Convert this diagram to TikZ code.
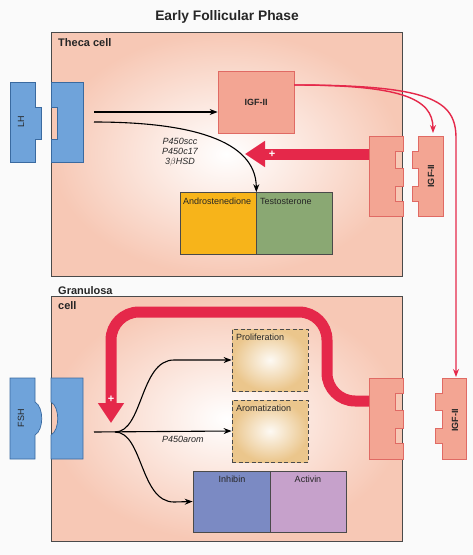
\documentclass[tikz,border=0pt]{standalone}
\usepackage{fontspec}
\setmainfont{Liberation Sans}
\usetikzlibrary{arrows.meta}
\definecolor{cellpink}{HTML}{F7C8B5}
\definecolor{cellline}{HTML}{4A4A4A}
\definecolor{recblue}{HTML}{6FA3DA}
\definecolor{recblueline}{HTML}{3A6AA0}
\definecolor{salmon}{HTML}{F3A593}
\definecolor{salmonline}{HTML}{E06A64}
\definecolor{igfred}{HTML}{E5284A}
\definecolor{androc}{HTML}{F7B41A}
\definecolor{testoc}{HTML}{8AA873}
\definecolor{inhibc}{HTML}{7B8AC3}
\definecolor{activc}{HTML}{C6A1CB}
\definecolor{tanc}{HTML}{EBC68C}
\definecolor{boxline}{HTML}{4A4A4A}
\tikzset{
  cellbox/.style={draw=cellline, line width=0.9pt, inner color=white, outer color=cellpink},
  bluerec/.style={fill=recblue, draw=recblueline, line width=0.7pt},
  salrec/.style={fill=salmon, draw=salmonline, line width=0.7pt},
  prodbox/.style={draw=boxline, line width=0.7pt, inner sep=0pt, minimum width=76pt, minimum height=62pt},
  dashbox/.style={draw=boxline, line width=0.8pt, dash pattern=on 4pt off 2.5pt, inner sep=0pt, minimum width=76pt, minimum height=62pt, inner color=white!90!tanc, outer color=tanc},
  lbl/.style={font=\fontsize{9}{10}\selectfont, text=black!85, inner sep=0pt},
  blbl/.style={font=\fontsize{9}{10}\selectfont\bfseries, text=black!85, inner sep=0pt},
  enz/.style={font=\fontsize{9}{10}\selectfont\itshape, text=black!85, inner sep=0pt, align=center},
  hdr/.style={font=\fontsize{11}{12}\selectfont\bfseries, text=black!85, anchor=west, inner sep=0pt},
  blk/.style={draw=black, line width=1.1pt, -{Stealth[length=8pt,width=6pt]}},
  thinred/.style={draw=igfred, line width=1.4pt},
  fat/.style={draw=igfred, line width=11pt, -{Triangle[length=20pt,width=25pt]}},
  plus/.style={text=white, font=\fontsize{11}{11}\selectfont\bfseries, inner sep=0pt}
}
\begin{document}
\begin{tikzpicture}[x=1pt,y=-1pt]
\useasboundingbox (0,0) rectangle (473,555);
\fill[white!98!black] (0,0) rectangle (473,555);

% title
\node[font=\fontsize{13.8}{15}\selectfont\bfseries, text=black!85] (title) at (227,17) {Early Follicular Phase};

% cell boxes
\shadedraw[cellbox] (51,32) rectangle (402,276);
\shadedraw[cellbox] (51,296) rectangle (402,541);
\node[hdr] (theca) at (58,42.5) {Theca cell};
\node[hdr] (granA) at (58,291) {Granulosa};
\node[hdr] (granB) at (58,306) {cell};

% LH ligand and receptor
\draw[bluerec] (10,82) -- (35,82) -- (35,107) -- (41,107) -- (41,139) -- (35,139) -- (35,162) -- (10,162) -- cycle;
\draw[bluerec] (51,82) -- (83,82) -- (83,162) -- (51,162) -- (51,139) -- (57,139) -- (57,107) -- (51,107) -- cycle;
\node[lbl, rotate=90] (lh) at (21,122) {LH};

% FSH ligand and receptor
\draw[bluerec] (10,378) -- (35,378) -- (35,402) .. controls (44,407) and (44,430) .. (35,435) -- (35,459) -- (10,459) -- cycle;
\draw[bluerec] (51,378) -- (83,378) -- (83,459) -- (51,459) -- (51,435) .. controls (60,430) and (60,407) .. (51,402) -- cycle;
\node[lbl, rotate=90] (fsh) at (21,418) {FSH};

% theca IGF-II receptor + ligand
\draw[salrec] (369,136) -- (403,136) -- (403,151) -- (395,151) -- (395,168) -- (403,168) -- (403,186) -- (395,186) -- (395,201) -- (403,201) -- (403,216) -- (369,216) -- cycle;
\draw[salrec] (418,136) -- (443,136) -- (443,216) -- (418,216) -- (418,201) -- (412,201) -- (412,186) -- (418,186) -- (418,168) -- (412,168) -- (412,151) -- (418,151) -- cycle;
\node[blbl, rotate=90] (igfT) at (431,176) {IGF-II};

% granulosa IGF-II receptor + ligand
\draw[salrec] (369,378) -- (403,378) -- (403,393) -- (395,393) -- (395,410) -- (403,410) -- (403,428) -- (395,428) -- (395,443) -- (403,443) -- (403,459) -- (369,459) -- cycle;
\draw[salrec] (442,378) -- (466,378) -- (466,459) -- (442,459) -- (442,443) -- (435,443) -- (435,428) -- (442,428) -- (442,410) -- (435,410) -- (435,393) -- (442,393) -- cycle;
\node[blbl, rotate=90] (igfG) at (455,420) {IGF-II};

% theca IGF-II box
\node[prodbox, fill=salmon, draw=salmonline, blbl] (igf) at (256,102) {IGF-II};

% Androstenedione / Testosterone
\node[prodbox, fill=androc] (andro) at (218,223.5) {};
\node[prodbox, fill=testoc] (testo) at (294,223.5) {};
\node[lbl, anchor=west] (androL) at (183,201) {Androstenedione};
\node[lbl, anchor=west] (testoL) at (260,201) {Testosterone};

% Proliferation / Aromatization
\node[dashbox] (prolif) at (270,360) {};
\node[dashbox] (arom) at (270,431) {};
\node[lbl, anchor=west] (prolifL) at (236,337.5) {Proliferation};
\node[lbl, anchor=west] (aromL) at (236,408.5) {Aromatization};

% Inhibin / Activin
\node[prodbox, fill=inhibc, minimum width=77pt, minimum height=61pt] (inhib) at (231.5,501.5) {};
\node[prodbox, fill=activc, minimum height=61pt] (activ) at (308,501.5) {};
\node[lbl] (inhibL) at (232,479) {Inhibin};
\node[lbl] (activL) at (308,479) {Activin};

% coordinates
\coordinate (lhA) at (94,112);
\coordinate (lhB) at (94,122);
\coordinate (fshA) at (94,432);
\coordinate (branch) at (115,432);
\coordinate (igfOut) at (294,85);
\coordinate (ligT) at (433,133);
\coordinate (ligG) at (456,377);
\coordinate (recTL) at (369,154);
\coordinate (tipT) at (245,154);
\coordinate (recGL) at (369,401);
\coordinate (tipG) at (111,423);

% black arrows theca
\draw[blk] (lhA) -- (lhA -| igf.west);
\draw[blk] (lhB) .. controls (190,122) and (256,140) .. (andro.north east);
\node[enz] (enzT) at (180,152) {P450scc\\P450c17\\3$\beta$HSD};

% black arrows granulosa
\draw[blk] (fshA) -- (arom.west);
\draw[blk] (branch) .. controls (143,432) and (140,360) .. (174,360) -- (prolif.west);
\draw[blk] (branch) .. controls (143,432) and (140,502) .. (174,502) -- (inhib.west);
\node[enz, anchor=west] (enzG) at (162,439) {P450arom};

% thin red arrows
\draw[thinred, -{Stealth[length=8pt,width=6pt]}] (igfOut) .. controls (400,85) and (433,98) .. (ligT);
\draw[thinred, -{Stealth[length=8pt,width=6pt]}] (igfOut) .. controls (430,85) and (456,100) .. (456,138) -- (ligG);

% fat red arrows
\draw[fat] (recTL) -- (tipT);
\node[plus] (plusT) at (272,154) {+};
\draw[fat, rounded corners=28pt] (recGL) -- (327,401) -- (327,312) -- (111,312) -- (tipG);
\node[plus] (plusG) at (111,399) {+};
\end{tikzpicture}
\end{document}
